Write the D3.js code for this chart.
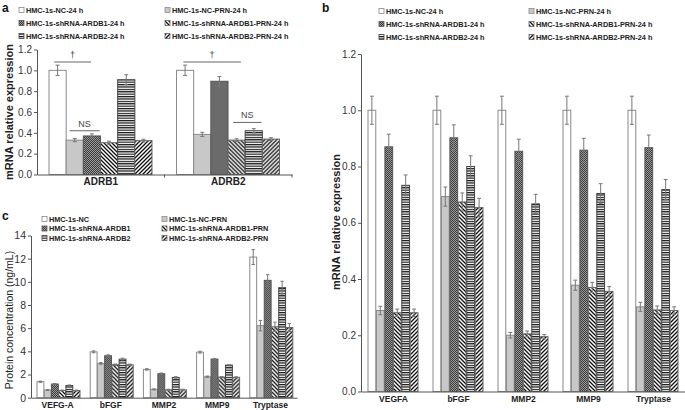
<!DOCTYPE html>
<html><head><meta charset="utf-8">
<script src="https://cdn.jsdelivr.net/npm/d3@7"></script>
<style>body{margin:0;background:#fff} svg{display:block} text{font-family:"Liberation Sans",Arial,sans-serif}</style>
</head><body><svg id="chart" width="685" height="410"></svg>
<script>
// ---------- data ----------
const seriesAB = ["HMC-1s-NC-24 h","HMC-1s-NC-PRN-24 h","HMC-1s-shRNA-ARDB1-24 h","HMC-1s-shRNA-ARDB1-PRN-24 h","HMC-1s-shRNA-ARDB2-24 h","HMC-1s-shRNA-ARDB2-PRN-24 h"];
const seriesC = ["HMC-1s-NC","HMC-1s-NC-PRN","HMC-1s-shRNA-ARDB1","HMC-1s-shRNA-ARDB1-PRN","HMC-1s-shRNA-ARDB2","HMC-1s-shRNA-ARDB2-PRN"];

const catsA = ["ADRB1","ADRB2"];
const valuesA = [[1.00,0.330,0.370,0.305,0.910,0.325],[1.00,0.385,0.895,0.330,0.420,0.340]];
const errorsA = [[0.050,0.015,0.020,0.015,0.048,0.013],[0.050,0.020,0.045,0.013,0.020,0.013]];
const ticksA = [0,0.2,0.4,0.6,0.8,1.0,1.2];
// annotations: [category index, from series pos, to series pos, y value, label]
const annotA = [[0,0.3,2.45,1.08,"†"],[1,0.4,3.75,1.08,"†"],[0,1.2,2.95,0.42,"NS"],[1,3.3,4.95,0.50,"NS"]];

const catsB = ["VEGFA","bFGF","MMP2","MMP9","Tryptase"];
const valuesB = [
  [1.00,0.288,0.870,0.280,0.733,0.280],
  [1.00,0.693,0.902,0.674,0.800,0.654],
  [1.00,0.200,0.854,0.205,0.667,0.195],
  [1.00,0.378,0.858,0.370,0.704,0.356],
  [1.00,0.301,0.867,0.290,0.718,0.288]];
const errorsB = [
  [0.050,0.015,0.045,0.013,0.037,0.013],
  [0.050,0.034,0.046,0.032,0.038,0.033],
  [0.050,0.010,0.043,0.010,0.034,0.008],
  [0.050,0.018,0.042,0.018,0.035,0.017],
  [0.050,0.016,0.045,0.014,0.036,0.013]];
const ticksB = [0,0.2,0.4,0.6,0.8,1.0,1.2];

const catsC = ["VEFG-A","bFGF","MMP2","MMP9","Tryptase"];
const valuesC = [
  [1.38,0.66,1.18,0.62,1.05,0.62],
  [3.96,2.96,3.62,2.85,3.33,2.84],
  [2.44,0.72,2.07,0.68,1.75,0.68],
  [3.93,1.81,3.33,1.78,2.81,1.76],
  [12.14,6.22,10.13,6.12,9.50,6.06]];
const errorsC = [
  [0.05,0.04,0.05,0.04,0.05,0.04],
  [0.08,0.07,0.08,0.06,0.08,0.06],
  [0.06,0.05,0.06,0.05,0.06,0.05],
  [0.08,0.06,0.06,0.05,0.06,0.05],
  [0.64,0.45,0.49,0.40,0.55,0.35]];
const ticksC = [0,2,4,6,8,10,12,14];

// ---------- styles ----------
const svg = d3.select("#chart");
const defs = svg.append("defs");
function pat(id, w, h, bg, build){
  const p = defs.append("pattern").attr("id",id).attr("patternUnits","userSpaceOnUse").attr("width",w).attr("height",h);
  p.append("rect").attr("width",w).attr("height",h).attr("fill",bg);
  build(p);
}
pat("pChk",2,2,"#9a9a9a",p=>{p.append("rect").attr("x",0).attr("y",0).attr("width",1).attr("height",1).attr("fill","#3c3c3c");p.append("rect").attr("x",1).attr("y",1).attr("width",1).attr("height",1).attr("fill","#3c3c3c");});
pat("pHor",2,2.4,"#fff",p=>{p.append("rect").attr("x",0).attr("y",0).attr("width",2).attr("height",1.2).attr("fill","#111");});
pat("pBack",4,4,"#fff",p=>{p.append("path").attr("d","M0,0L4,4M-1,3L1,5M3,-1L5,1").attr("stroke","#111").attr("stroke-width",1.3);});
pat("pFwd",4,4,"#fff",p=>{p.append("path").attr("d","M0,4L4,0M-1,1L1,-1M3,5L5,3").attr("stroke","#111").attr("stroke-width",1.3);});
const fills = ["#ffffff","#c8c8c8","url(#pChk)","url(#pBack)","url(#pHor)","url(#pFwd)"];
const strokes = ["#8a8a8a","#8a8a8a","#555","#666","#444","#666"];
const axisColor = "#555";

function panel(o){
  const g = svg.append("g");
  const x = d3.scaleBand().domain(o.cats).range(o.xr).padding(0);
  const xs = d3.scaleBand().domain(d3.range(6)).range(o.sub).paddingInner(o.inner||0);
  const y = d3.scaleLinear().domain([0,o.ymax]).range(o.yr);
  // bars
  o.cats.forEach((c,ci)=>{
    const gg = g.append("g").attr("transform",`translate(${x(c)},0)`);
    gg.selectAll("rect").data(o.vals[ci]).join("rect")
      .attr("x",(d,i)=>xs(i)).attr("width",xs.bandwidth())
      .attr("y",d=>y(d)).attr("height",d=>y(0)-y(d))
      .attr("fill",(d,i)=>fills[i]).attr("stroke",(d,i)=>strokes[i]).attr("stroke-width",1);
    const cap = Math.min(4, xs.bandwidth()*0.5);
    o.vals[ci].forEach((v,i)=>{
      const e = o.errs[ci][i], cx = xs(i)+xs.bandwidth()/2;
      const eg = gg.append("g").attr("stroke","#777").attr("stroke-width",1);
      eg.append("line").attr("x1",cx).attr("x2",cx).attr("y1",y(v+e)).attr("y2",y(v-e));
      eg.append("line").attr("x1",cx-cap/2).attr("x2",cx+cap/2).attr("y1",y(v+e)).attr("y2",y(v+e));
      eg.append("line").attr("x1",cx-cap/2).attr("x2",cx+cap/2).attr("y1",y(v-e)).attr("y2",y(v-e));
    });
  });
  // y axis
  const ya = g.append("g").attr("transform",`translate(${o.xr[0]},0)`)
    .call(d3.axisLeft(y).tickValues(o.ticks).tickFormat(o.fmt).tickSize(3).tickPadding(2).tickSizeOuter(0));
  ya.select(".domain").attr("stroke",axisColor);
  ya.selectAll(".tick line").attr("stroke",axisColor);
  ya.selectAll(".tick text").attr("fill","#333").style("font-size",o.tickFont+"px");
  // x axis
  const xa = g.append("g").attr("transform",`translate(0,${o.yr[0]})`)
    .call(d3.axisBottom(x).tickSize(0).tickPadding(o.xpad));
  xa.select(".domain").attr("stroke",axisColor);
  xa.selectAll(".tick text").attr("fill","#222").style("font-size",o.xFont+"px").style("font-weight","bold");
  if(o.midTicks){
    o.cats.forEach((c)=>{
      g.append("line").attr("x1",x(c)+x.bandwidth()).attr("x2",x(c)+x.bandwidth())
        .attr("y1",o.yr[0]).attr("y2",o.yr[0]+3).attr("stroke",axisColor);
    });
  }
  // y title
  g.append("text").attr("transform",`translate(${o.titleX},${o.titleY}) rotate(-90)`)
    .attr("text-anchor","middle").attr("dy","0.35em").attr("fill","#222")
    .style("font-size",o.titleFont+"px").style("font-weight",o.titleWeight).text(o.title);
  // annotations
  (o.annot||[]).forEach(a=>{
    const base = x(o.cats[a[0]]) + xs(0), st = xs.step();
    const x1 = base + a[1]*st, x2 = base + a[2]*st, yy = y(a[3]);
    g.append("line").attr("x1",x1).attr("x2",x2).attr("y1",yy).attr("y2",yy).attr("stroke","#666").attr("stroke-width",1);
    g.append("text").attr("x",(x1+x2)/2).attr("y",yy-4).attr("text-anchor","middle")
      .attr("fill","#444").style("fill","#444").style("font-size","9px").text(a[4]);
  });
  // legend
  o.names.forEach((n,i)=>{
    const col = i%2, row = Math.floor(i/2);
    const lx = o.legX[col], ly = o.legY[row];
    g.append("rect").attr("x",lx).attr("y",ly-2.5).attr("width",5).attr("height",5)
      .attr("fill",fills[i]).attr("stroke",strokes[i]).attr("stroke-width",0.8);
    g.append("text").attr("x",lx+7).attr("y",ly).attr("dy","0.35em").attr("fill","#222")
      .style("font-size","7.3px").style("font-weight","bold").text(n);
  });
  // panel letter
  g.append("text").attr("x",o.letter[1]).attr("y",o.letter[2]).attr("dy","0.35em").attr("fill","#111")
    .style("font-size","12px").style("font-weight","bold").text(o.letter[0]);
}

panel({cats:catsA, vals:valuesA, errs:errorsA, ticks:ticksA, fmt:d3.format(".1f"), ymax:1.2,
  xr:[37,292], yr:[174.5,49.5], sub:[12,115], inner:0, tickFont:10, xFont:10, xpad:3, midTicks:true,
  title:"mRNA relative expression", titleX:9, titleY:112, titleFont:11, titleWeight:"bold",
  annot:annotA, names:seriesAB, legX:[19,165], legY:[10,23,36], letter:["a",2,8]});

panel({cats:catsB, vals:valuesB, errs:errorsB, ticks:ticksB, fmt:d3.format(".1f"), ymax:1.2,
  xr:[361,686], yr:[391.5,54], sub:[7,57], inner:0.08, tickFont:10, xFont:8.5, xpad:4,
  title:"mRNA relative expression", titleX:336, titleY:222, titleFont:11, titleWeight:"bold",
  names:seriesAB, legX:[379,529], legY:[11,24,37], letter:["b",322,8]});

panel({cats:catsC, vals:valuesC, errs:errorsC, ticks:ticksC, fmt:d3.format("d"), ymax:14,
  xr:[31,297], yr:[397.7,235.5], sub:[6,49], inner:0.05, tickFont:10.5, xFont:8.5, xpad:4,
  title:"Protein concentration (ng/mL)", titleX:9, titleY:320, titleFont:10.5, titleWeight:"normal",
  names:seriesC, legX:[42,162], legY:[219,228.5,238], letter:["c",2,216]});
</script></body></html>
